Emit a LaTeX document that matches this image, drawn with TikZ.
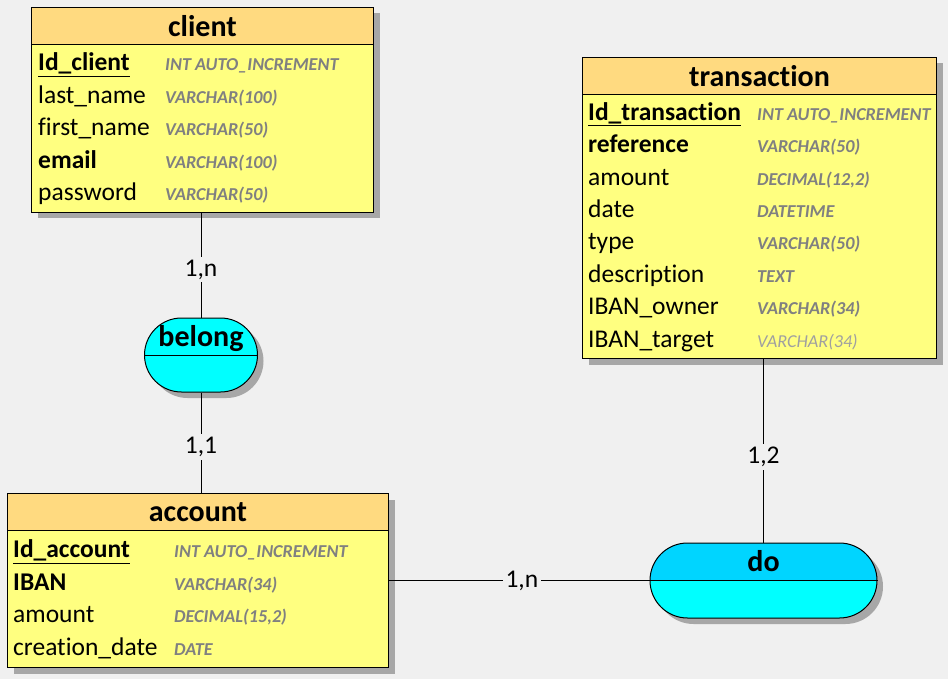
\documentclass[tikz,border=0pt]{standalone}
\usepackage{fontspec}
\setmainfont{Carlito}[Ligatures=NoCommon]
\usetikzlibrary{calc,positioning,shapes.misc,shadows}
\definecolor{bgcol}{HTML}{F0F0F0}
\definecolor{headcol}{HTML}{FFDA80}
\definecolor{bodycol}{HTML}{FFFF80}
\definecolor{relcol}{HTML}{00FFFF}
\definecolor{relsel}{HTML}{00D5FF}
\definecolor{typecol}{HTML}{808080}
\definecolor{typelight}{HTML}{A0A0A0}
\tikzset{
	entbody/.style = {draw, fill=bodycol, line width=1pt, inner sep=0pt,
		drop shadow={shadow xshift=6pt, shadow yshift=-6pt, fill=black, opacity=.3}},
	enthead/.style = {draw, fill=headcol, line width=1pt, inner sep=0pt, minimum height=37pt,
		font=\fontsize{30}{32}\selectfont\bfseries},
	field/.style = {anchor=mid west, inner sep=0pt, font=\fontsize{25.5}{28}\selectfont},
	ftype/.style = {anchor=mid west, inner sep=0pt, text=typecol,
		font=\fontsize{18.2}{20}\selectfont\bfseries\itshape},
	relation/.style = {rounded rectangle, draw, fill=relcol, line width=1pt, inner sep=0pt,
		drop shadow={shadow xshift=6pt, shadow yshift=-6pt, fill=black, opacity=.3}},
	reltitle/.style = {anchor=base, inner sep=0pt, font=\fontsize{30}{32}\selectfont\bfseries},
	link/.style = {line width=1pt},
	card/.style = {fill=bgcol, inner sep=3pt, font=\fontsize{25.5}{28}\selectfont}
}
% entity box: name, left x, top y, width, height, title
\newcommand{\entity}[6]{
	\node [entbody, minimum width=#4, minimum height=#5, anchor=north west] (#1) at (#2,#3) {};
	\node [enthead, minimum width=#4, anchor=north] (#1head) at (#1.north) {#6};
}
% rows: name, field x, type x, first row y, list of field/type
\newcommand{\fields}[5]{
	\foreach \f/\t [count=\r from 0] in {#5}{
		\node [field] (#1f\r) at ({#2},{#4+\r*32.4}) {\f};
		\node [ftype] (#1t\r) at ({#3},{#4+\r*32.4}) {\t};
	}
}

\begin{document}
\begin{tikzpicture}[x=1pt, y=-1pt]
\useasboundingbox (0,0) rectangle (948,679);
\fill [bgcol] (0,0) rectangle (948,679);

% entities
\entity{client}{31}{7}{342}{205}{client}
\fields{client}{38}{165}{68.5}{
	{\underline{\textbf{Id\_client}}}/{INT AUTO\_INCREMENT},
	{last\_name}/{VARCHAR(100)},
	{first\_name}/{VARCHAR(50)},
	{\textbf{email}}/{VARCHAR(100)},
	{password}/{VARCHAR(50)}}

\entity{transaction}{582}{57}{354}{301}{transaction}
\fields{transaction}{588}{757}{118}{
	{\underline{\textbf{Id\_transaction}}}/{INT AUTO\_INCREMENT},
	{\textbf{reference}}/{VARCHAR(50)},
	{amount}/{DECIMAL(12,2)},
	{date}/{DATETIME},
	{type}/{VARCHAR(50)},
	{description}/{TEXT},
	{IBAN\_owner}/{VARCHAR(34)},
	{IBAN\_target}/{\mdseries\color{typelight}VARCHAR(34)}}

\entity{account}{7}{493}{381}{174}{account}
\fields{account}{13}{174}{555.5}{
	{\underline{\textbf{Id\_account}}}/{INT AUTO\_INCREMENT},
	{\textbf{IBAN}}/{VARCHAR(34)},
	{amount}/{DECIMAL(15,2)},
	{creation\_date}/{DATE}}

% relations
\node [relation, minimum width=113, minimum height=74] (belong) at (201,355) {};
\draw [link] (belong.west) -- (belong.east);
\node [reltitle] (belongname) at ($(belong.center)+(0,-9)$) {belong};

\node [relation, minimum width=227, minimum height=75,
	path picture={\fill [relsel] (path picture bounding box.north west) rectangle (path picture bounding box.east);}]
	(do) at (763.5,580.5) {};
\draw [link] (do.west) -- (do.east);
\node [reltitle] (doname) at ($(do.center)+(0,-9)$) {do};

% links
\draw [link] (belong.north) -- node [card, pos=.46] {1,n} (belong |- client.south);
\draw [link] (belong.south) -- node [card, pos=.545] {1,1} (belong |- account.north);
\draw [link] (do.north) -- node [card, pos=.465] {1,2} (do |- transaction.south);
\draw [link] (do.west) -- node [card, pos=.49] {1,n} (do.west -| account.east);
\end{tikzpicture}
\end{document}
